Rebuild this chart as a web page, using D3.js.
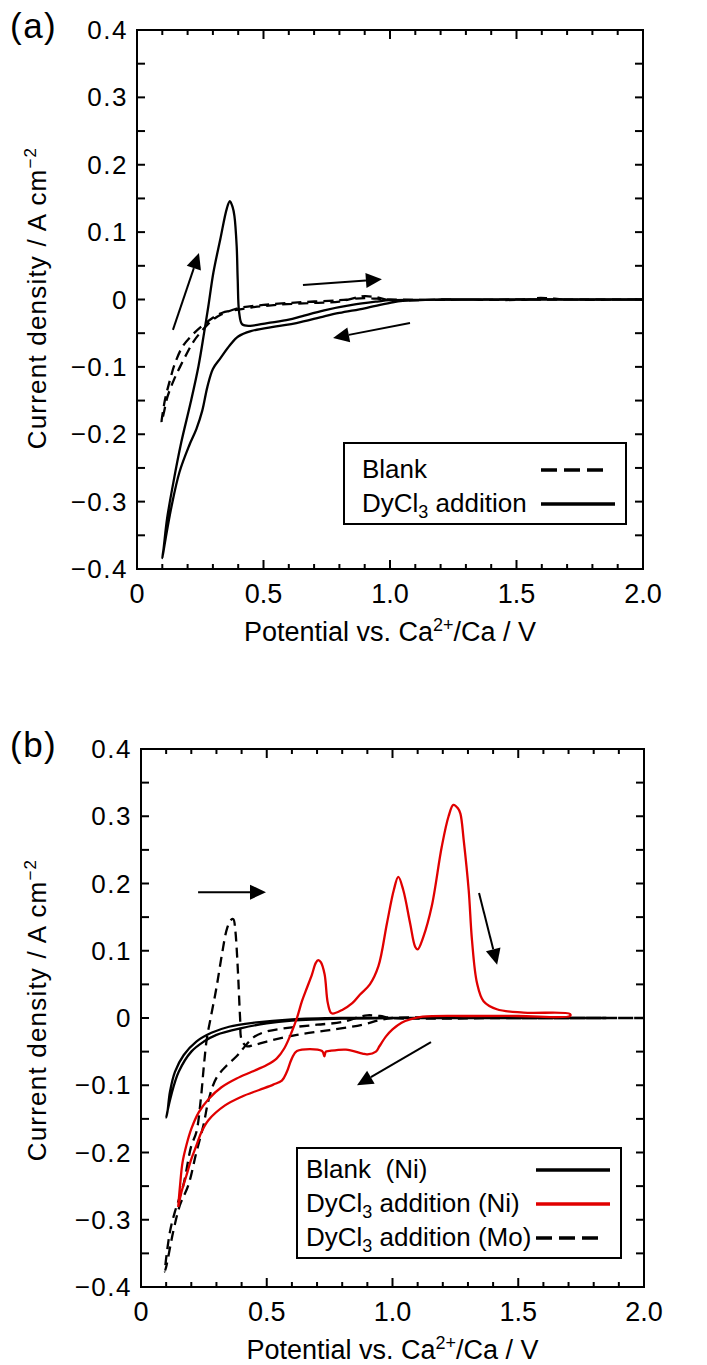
<!DOCTYPE html>
<html>
<head>
<meta charset="utf-8">
<script src="https://cdn.jsdelivr.net/npm/d3@7"></script>
<style>
  body { margin: 0; background: #fff; }
  svg { display: block; font-family: "Liberation Sans", Arial, sans-serif; }
</style>
</head>
<body>
<svg id="chart" width="707" height="1365"></svg>
<script>
// ---- data (potential V, current density A cm-2) ----
var xTickValues = [0, 0.5, 1.0, 1.5, 2.0];
var xTickLabels = ["0", "0.5", "1.0", "1.5", "2.0"];
var yTickValues = [0.4, 0.3, 0.2, 0.1, 0, -0.1, -0.2, -0.3, -0.4];
var yTickLabels = ["0.4", "0.3", "0.2", "0.1", "0", "\u22120.1", "\u22120.2", "\u22120.3", "\u22120.4"];

// panel (a)
var blankA = [[2.0,0],[1.7,0],[1.62,0.002],[1.58,0.002],[1.55,0],[1.2,0],[1.0,-0.001],[0.95,0.003],[0.9,0.005],[0.87,0.003],
  [0.8,-0.003],[0.7,-0.005],[0.55,-0.008],[0.45,-0.012],[0.4,-0.015],[0.335,-0.02],[0.3,-0.027],[0.261,-0.038],[0.22,-0.052],
  [0.18,-0.07],[0.15,-0.095],[0.13,-0.12],[0.11,-0.15],[0.097,-0.182],[0.105,-0.17],[0.12,-0.145],[0.145,-0.12],[0.17,-0.1],
  [0.2,-0.078],[0.224,-0.062],[0.26,-0.045],[0.3,-0.03],[0.335,-0.022],[0.4,-0.013],[0.5,-0.008],[0.65,-0.004],[0.8,-0.001],
  [0.9,0.002],[1.0,0],[1.5,0],[2.0,0]];
var dyA = [[2.0,0],[1.6,0],[1.2,0],[1.05,-0.002],[1.0,-0.005],[0.9,-0.013],[0.8,-0.02],[0.74,-0.025],[0.63,-0.035],[0.55,-0.04],
  [0.45,-0.047],[0.4,-0.055],[0.367,-0.068],[0.33,-0.087],[0.3,-0.103],[0.278,-0.13],[0.258,-0.165],[0.235,-0.192],[0.206,-0.217],
  [0.168,-0.256],[0.137,-0.306],[0.113,-0.355],[0.1,-0.384],[0.105,-0.37],[0.119,-0.325],[0.144,-0.271],[0.175,-0.212],
  [0.212,-0.153],[0.243,-0.099],[0.265,-0.05],[0.282,-0.01],[0.302,0.04],[0.329,0.089],[0.355,0.135],[0.367,0.146],
  [0.378,0.137],[0.385,0.124],[0.394,0.079],[0.398,0.03],[0.404,-0.02],[0.416,-0.037],[0.447,-0.039],[0.515,-0.035],
  [0.6,-0.03],[0.65,-0.025],[0.74,-0.016],[0.85,-0.008],[0.95,-0.003],[1.0,-0.001],[1.3,0],[1.6,0],[2.0,0]];

// panel (b)
var blankNiB = [[1.85,0],[1.2,0],[1.0,0],[0.8,-0.001],[0.6,-0.004],[0.5,-0.008],[0.4,-0.015],[0.3,-0.025],[0.25,-0.035],
  [0.2,-0.05],[0.15,-0.08],[0.12,-0.115],[0.1,-0.148],[0.105,-0.14],[0.115,-0.11],[0.135,-0.08],[0.17,-0.055],[0.22,-0.035],
  [0.28,-0.022],[0.35,-0.013],[0.45,-0.007],[0.6,-0.002],[0.8,0],[1.2,0],[1.85,0]];
var dyNiB = [[0.148,-0.281],[0.155,-0.25],[0.165,-0.215],[0.18,-0.19],[0.2,-0.165],[0.23,-0.14],[0.27,-0.12],[0.32,-0.103],
  [0.38,-0.09],[0.44,-0.08],[0.5,-0.07],[0.54,-0.06],[0.57,-0.045],[0.6,-0.02],[0.62,0],[0.64,0.025],[0.66,0.045],[0.68,0.065],
  [0.695,0.082],[0.705,0.086],[0.715,0.083],[0.73,0.065],[0.743,0.022],[0.758,0.007],[0.8,0.012],[0.84,0.022],[0.871,0.035],
  [0.91,0.05],[0.944,0.077],[0.978,0.141],[1.005,0.19],[1.023,0.21],[1.043,0.19],[1.07,0.141],[1.09,0.106],[1.1,0.102],
  [1.123,0.121],[1.156,0.166],[1.196,0.255],[1.223,0.3],[1.242,0.317],[1.26,0.312],[1.27,0.304],[1.283,0.265],[1.303,0.19],
  [1.316,0.116],[1.336,0.052],[1.362,0.025],[1.415,0.013],[1.521,0.008],[1.706,0.006],[1.706,0.003],[1.5,0.003],[1.3,0.003],
  [1.12,0.002],[1.07,-0.002],[1.036,-0.007],[1.0,-0.017],[0.975,-0.027],[0.948,-0.042],[0.934,-0.05],[0.9,-0.054],[0.881,-0.053],
  [0.815,-0.047],[0.749,-0.049],[0.735,-0.05],[0.729,-0.057],[0.72,-0.049],[0.62,-0.049],[0.6,-0.06],[0.58,-0.08],[0.56,-0.093],
  [0.526,-0.099],[0.47,-0.107],[0.4,-0.117],[0.334,-0.13],[0.268,-0.152],[0.24,-0.17],[0.22,-0.19],[0.2,-0.21],[0.18,-0.235],
  [0.16,-0.26],[0.148,-0.281]];
var dyMoB = [[2.0,0],[1.5,0],[1.0,0],[0.95,0.003],[0.9,0.004],[0.87,0.002],[0.8,-0.006],[0.7,-0.01],[0.6,-0.014],[0.5,-0.02],
  [0.45,-0.028],[0.4,-0.048],[0.38,-0.057],[0.34,-0.071],[0.3,-0.089],[0.27,-0.12],[0.248,-0.16],[0.22,-0.2],[0.188,-0.249],
  [0.155,-0.278],[0.128,-0.318],[0.102,-0.367],[0.095,-0.377],[0.115,-0.318],[0.135,-0.288],[0.168,-0.249],[0.2,-0.19],
  [0.22,-0.17],[0.238,-0.12],[0.25,-0.071],[0.262,-0.03],[0.277,0],[0.3,0.045],[0.322,0.095],[0.342,0.133],[0.358,0.146],
  [0.367,0.147],[0.375,0.13],[0.38,0.106],[0.387,0.057],[0.394,0],[0.4,-0.032],[0.42,-0.042],[0.45,-0.04],[0.5,-0.035],
  [0.62,-0.025],[0.75,-0.018],[0.88,-0.01],[0.95,-0.003],[1.0,0],[1.5,0],[2.0,0]];

// arrows [tailV, tailJ, tipV, tipJ]
var arrowsA = [[0.142,-0.045,0.245,0.069],[0.656,0.0215,0.968,0.03],[1.079,-0.035,0.775,-0.057]];
var arrowsB = [[0.227,0.187,0.497,0.187],[1.344,0.186,1.416,0.079],[1.153,-0.036,0.859,-0.1]];

var legendA = [{label:"Blank", sub:null, rest:"", color:"#000", dash:"16,7"},
               {label:"DyCl", sub:"3", rest:" addition", color:"#000", dash:null}];
var legendB = [{label:"Blank\u00a0 (Ni)", sub:null, rest:"", color:"#000", dash:null},
               {label:"DyCl", sub:"3", rest:" addition (Ni)", color:"#e00000", dash:null},
               {label:"DyCl", sub:"3", rest:" addition (Mo)", color:"#000", dash:"16,7"}];

var svg = d3.select("#chart");

function drawPanel(p) {
  var x = d3.scaleLinear().domain([0, 2]).range([p.left, p.left + p.w]);
  var y = d3.scaleLinear().domain([-0.4, 0.4]).range([p.top + p.h, p.top]);
  var g = svg.append("g");

  var clipId = "clip" + p.name;
  svg.append("clipPath").attr("id", clipId).append("rect")
    .attr("x", p.left).attr("y", p.top).attr("width", p.w).attr("height", p.h);

  // ticks (inward, all four sides)
  var xMinor = d3.range(1, 20).map(function(i){ return i / 10; });
  xMinor.forEach(function(v) {
    var major = Math.abs(v * 2 - Math.round(v * 2)) < 1e-6;
    var len = major ? 9 : 5;
    g.append("line").attr("x1", x(v)).attr("x2", x(v)).attr("y1", p.top + p.h).attr("y2", p.top + p.h - len)
      .attr("stroke", "#000").attr("stroke-width", 2);
    g.append("line").attr("x1", x(v)).attr("x2", x(v)).attr("y1", p.top).attr("y2", p.top + len)
      .attr("stroke", "#000").attr("stroke-width", 2);
  });
  var yMinor = d3.range(-7, 8).map(function(i){ return i * 0.05; });
  yMinor.forEach(function(v) {
    g.append("line").attr("x1", p.left).attr("x2", p.left + 8).attr("y1", y(v)).attr("y2", y(v))
      .attr("stroke", "#000").attr("stroke-width", 2);
    g.append("line").attr("x1", p.left + p.w).attr("x2", p.left + p.w - 8).attr("y1", y(v)).attr("y2", y(v))
      .attr("stroke", "#000").attr("stroke-width", 2);
  });

  // frame
  g.append("rect").attr("x", p.left).attr("y", p.top).attr("width", p.w).attr("height", p.h)
    .attr("fill", "none").attr("stroke", "#000").attr("stroke-width", 2);

  // tick labels
  g.selectAll(".xl").data(xTickValues).enter().append("text")
    .attr("x", function(d){ return x(d); }).attr("y", p.top + p.h + 34)
    .attr("text-anchor", "middle").attr("font-size", 27)
    .text(function(d, i){ return xTickLabels[i]; });
  g.selectAll(".yl").data(yTickValues).enter().append("text")
    .attr("x", p.left - 9).attr("y", function(d){ return y(d) + 9; })
    .attr("text-anchor", "end").attr("font-size", 26).attr("letter-spacing", 1.5)
    .text(function(d, i){ return yTickLabels[i]; });

  // axis titles
  var xt = g.append("text").attr("x", p.left + p.w / 2).attr("y", p.top + p.h + 72)
    .attr("text-anchor", "middle").attr("font-size", 27);
  xt.append("tspan").text("Potential vs. Ca");
  xt.append("tspan").attr("dy", -10).attr("font-size", 18).text("2+");
  xt.append("tspan").attr("dy", 10).text("/Ca / V");

  var yt = g.append("text").attr("transform", "translate(" + p.ytx + "," + p.yty + ") rotate(-90)")
    .attr("text-anchor", "middle").attr("font-size", 26).attr("letter-spacing", 1.2);
  yt.append("tspan").text("Current density / A cm");
  yt.append("tspan").attr("dy", -10).attr("font-size", 17).text("\u22122");

  g.append("text").attr("x", 10).attr("y", p.top + 8).attr("font-size", 35).attr("letter-spacing", 1.5).text(p.letter);

  // curves
  var line = d3.line().curve(d3.curveCatmullRom.alpha(0.5))
    .x(function(d){ return x(d[0]); }).y(function(d){ return y(d[1]); });
  var cg = g.append("g").attr("clip-path", "url(#" + clipId + ")");
  p.series.forEach(function(s) {
    cg.append("path").attr("d", line(s.data)).attr("fill", "none")
      .attr("stroke", s.color).attr("stroke-width", 2.3)
      .attr("stroke-dasharray", s.dash || null).attr("stroke-linejoin", "round");
  });

  // arrows
  p.arrows.forEach(function(a) {
    var x1 = x(a[0]), y1 = y(a[1]), x2 = x(a[2]), y2 = y(a[3]);
    var ang = Math.atan2(y2 - y1, x2 - x1);
    var hl = 16, hw = 7.5;
    var bx = x2 - hl * Math.cos(ang), by = y2 - hl * Math.sin(ang);
    g.append("line").attr("x1", x1).attr("y1", y1).attr("x2", bx).attr("y2", by)
      .attr("stroke", "#000").attr("stroke-width", 2);
    var pts = [[x2, y2],
      [bx + hw * Math.sin(ang), by - hw * Math.cos(ang)],
      [bx - hw * Math.sin(ang), by + hw * Math.cos(ang)]];
    g.append("polygon").attr("points", pts.map(function(q){ return q.join(","); }).join(" ")).attr("fill", "#000");
  });

  // legend
  var L = p.legend;
  g.append("rect").attr("x", L.x).attr("y", L.y).attr("width", L.w).attr("height", L.h)
    .attr("fill", "#fff").attr("stroke", "#000").attr("stroke-width", 2);
  L.items.forEach(function(it, i) {
    var by = L.y + L.first + i * L.step;
    var t = g.append("text").attr("x", L.x + L.tx).attr("y", by).attr("font-size", 26);
    t.append("tspan").text(it.label);
    if (it.sub) {
      t.append("tspan").attr("dy", 6).attr("font-size", 18).text(it.sub);
      t.append("tspan").attr("dy", -6).text(it.rest);
    }
    g.append("line").attr("x1", L.lx1).attr("x2", it.dash ? L.lx1 + 64 : L.lx2)
      .attr("y1", by - 8).attr("y2", by - 8)
      .attr("stroke", it.color).attr("stroke-width", 3.5).attr("stroke-dasharray", it.dash);
  });
}

drawPanel({
  name: "a", letter: "(a)", left: 137, top: 30, w: 506, h: 539, ytx: 46, yty: 298,
  series: [{data: blankA, color: "#000", dash: "10,6"}, {data: dyA, color: "#000", dash: null}],
  arrows: arrowsA,
  legend: {x: 344, y: 443, w: 282, h: 81, tx: 18, first: 35, step: 34, lx1: 541, lx2: 615, items: legendA}
});

drawPanel({
  name: "b", letter: "(b)", left: 141, top: 749, w: 503, h: 538, ytx: 46, yty: 1010,
  series: [{data: blankNiB, color: "#000", dash: null}, {data: dyMoB, color: "#000", dash: "10,6"},
           {data: dyNiB, color: "#e00000", dash: null}],
  arrows: arrowsB,
  legend: {x: 297, y: 1148, w: 324, h: 110, tx: 9, first: 30, step: 34, lx1: 536, lx2: 610, items: legendB}
});
</script>
</body>
</html>
